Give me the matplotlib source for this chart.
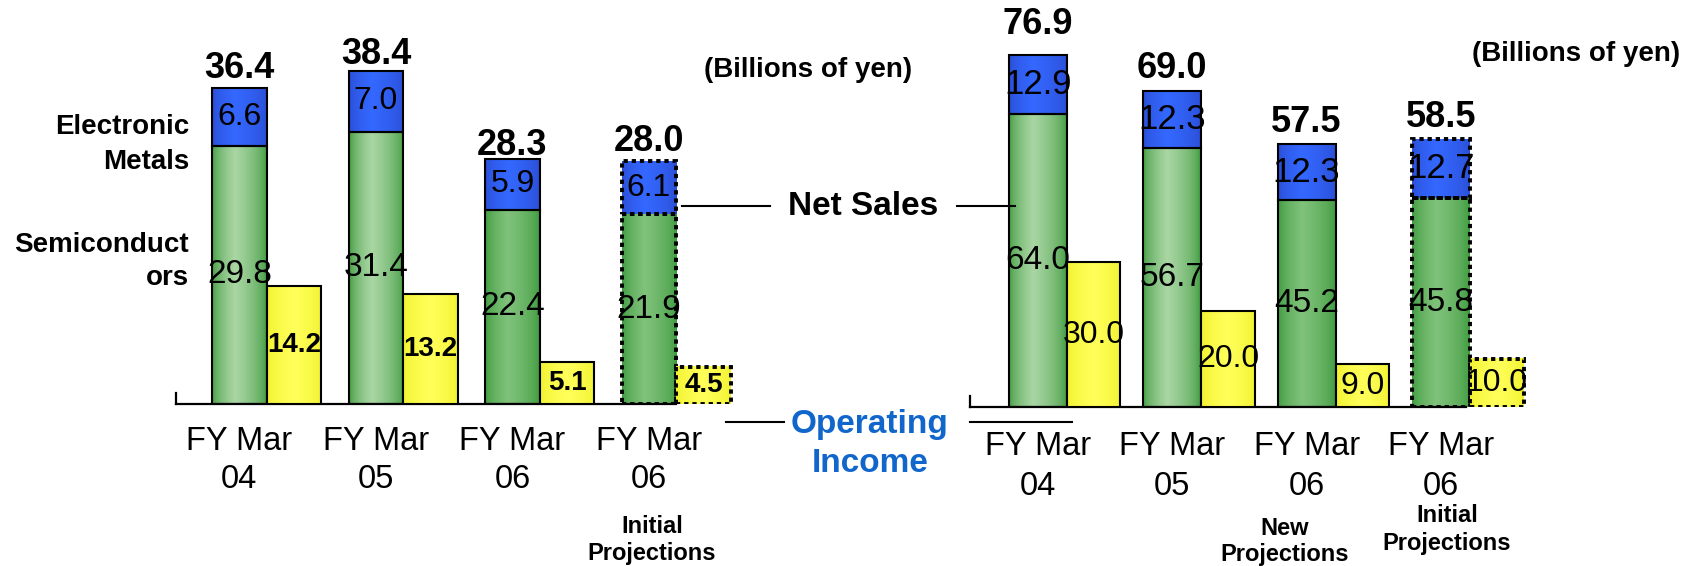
import numpy as np
import matplotlib
matplotlib.use("Agg")
import matplotlib.pyplot as plt
from matplotlib.lines import Line2D
from matplotlib.colors import to_rgb

plt.rcParams['font.family'] = ['Liberation Sans', 'DejaVu Sans']

# ---------------- data ----------------
categories = ["FY Mar\n04", "FY Mar\n05", "FY Mar\n06", "FY Mar\n06"]
projection = [False, False, False, True]
light_green = [True, True, False, False]

left_semis = [29.8, 31.4, 22.4, 21.9]
left_metals = [6.6, 7.0, 5.9, 6.1]
left_totals = [36.4, 38.4, 28.3, 28.0]
left_opinc = [14.2, 13.2, 5.1, 4.5]

right_semis = [64.0, 56.7, 45.2, 45.8]
right_metals = [12.9, 12.3, 12.3, 12.7]
right_totals = [76.9, 69.0, 57.5, 58.5]
right_opinc = [30.0, 20.0, 9.0, 10.0]

# ---------------- layout helpers ----------------
W, H = 1696, 566
fig = plt.figure(figsize=(W / 100, H / 100), dpi=100)


def fx(px):
    return px / W


def fy(py):
    return 1 - py / H


def add_axes_px(left, right, top, bottom):
    return fig.add_axes([left / W, 1 - bottom / H, (right - left) / W, (bottom - top) / H])


def gradient(ax, patch, c_edge, c_mid, peak=0.42, z=2):
    x0, y0 = patch.get_x(), patch.get_y()
    w, h = patch.get_width(), patch.get_height()
    t = np.linspace(0, 1, 120)
    f = np.where(t < peak, t / peak, (1 - t) / (1 - peak))
    f = np.clip(f, 0, 1) ** 0.55
    e = np.array(to_rgb(c_edge))
    m = np.array(to_rgb(c_mid))
    img = e[None, None, :] + (m - e)[None, None, :] * f[None, :, None]
    ax.imshow(img, extent=(x0, x0 + w, y0, y0 + h), aspect='auto',
              interpolation='bilinear', zorder=z, origin='lower')


BLUE = ('#2A4BD0', '#3468FF')
GREEN_L = ('#379637', '#AAD6A4')
GREEN_M = ('#379637', '#80C27B')
YELLOW = ('#F0F02A', '#FFFF5A')


def draw_panel(cfg, semis, metals, totals, opinc):
    left_px, right_px, base_px = cfg['left'], cfg['right'], cfg['base']
    x0_px, step = cfg['x0'], cfg['step']
    gw, yw = cfg['gw'], cfg['yw']
    ax = add_axes_px(left_px, right_px, 0, base_px)
    ax2 = ax.twinx()
    x = np.arange(len(categories))
    for i in range(len(categories)):
        dashed = projection[i]
        ls = (0, (1.1, 1.0)) if dashed else '-'
        lw = 2.8 if dashed else 1.5
        g = ax.bar(x[i] - gw, semis[i], width=gw, align='edge', facecolor='none',
                   edgecolor='black', lw=lw, ls=ls, zorder=3)[0]
        b = ax.bar(x[i] - gw, metals[i], bottom=semis[i], width=gw, align='edge',
                   facecolor='none', edgecolor='black', lw=lw, ls=ls, zorder=3)[0]
        y = ax2.bar(x[i], opinc[i], width=yw, align='edge', facecolor='none',
                    edgecolor='black', lw=lw, ls=ls, zorder=3)[0]
        for p in (g, b, y):
            p.set_capstyle('butt')
        gradient(ax, g, *(GREEN_L if light_green[i] else GREEN_M))
        gradient(ax, b, *BLUE)
        gradient(ax2, y, *YELLOW, peak=0.5)

        xc = x[i] - gw / 2
        # value labels
        ax2.text(xc, semis[i] / 2, f"{semis[i]:.1f}", transform=ax.transData,
                 ha='center', va='center', fontsize=cfg['fs_green'], zorder=6)
        ax2.text(xc, semis[i] + metals[i] / 2, f"{metals[i]:.1f}", transform=ax.transData,
                 ha='center', va='center', fontsize=cfg['fs_blue'], zorder=6)
        ax2.text(x[i] + yw / 2, opinc[i] / 2, f"{opinc[i]:.1f}",
                 ha='center', va='center', fontsize=cfg['fs_yellow'],
                 fontweight=cfg['fw_yellow'], zorder=6)
        ax2.annotate(f"{totals[i]:.1f}", xy=(xc, totals[i]), xycoords=ax.transData,
                     xytext=(0, cfg['top_gap'][i]), textcoords='offset pixels',
                     ha='center', va='baseline', fontsize=26, fontweight='bold',
                     annotation_clip=False)
        l1, l2 = categories[i].split('\n')
        for txt, off in ((l1, cfg['tick_off'][0]), (l2, cfg['tick_off'][1])):
            ax2.annotate(txt, xy=(xc, 0), xycoords=ax.get_xaxis_transform(),
                         xytext=(0, -off), textcoords='offset pixels',
                         ha='center', va='center', fontsize=23.5, annotation_clip=False)
        if i in cfg['sub']:
            dx, lines = cfg['sub'][i]
            for txt, off in lines:
                ax2.annotate(txt, xy=(xc, 0), xycoords=ax.get_xaxis_transform(),
                             xytext=(dx, -off), textcoords='offset pixels',
                             ha='center', va='center', fontsize=17, fontweight='bold',
                             annotation_clip=False)

    ax.set_xlim((left_px - x0_px) / step, (right_px - x0_px) / step)
    ax.set_ylim(0, base_px / cfg['s_scale'])
    ax2.set_ylim(0, base_px / cfg['o_scale'])
    for a in (ax, ax2):
        a.set_xticks([])
        a.set_yticks([])
        for s in a.spines.values():
            s.set_visible(False)
    ax.spines['bottom'].set_visible(True)
    ax.spines['left'].set_visible(True)
    ax.spines['bottom'].set_linewidth(1.6)
    ax.spines['left'].set_linewidth(1.6)
    ax.spines['bottom'].set_bounds((left_px - x0_px) / step, (cfg['axis_end'] - x0_px) / step)
    ax.spines['left'].set_bounds(0, 11 / cfg['s_scale'])
    ax.patch.set_visible(False)
    return ax, ax2


left_cfg = dict(left=175.7, right=760, base=404, x0=266.7, step=136.5, gw=0.40, yw=0.40,
                s_scale=8.67, o_scale=8.3, axis_end=676,
                fs_green=24, fs_blue=23, fs_yellow=20, fw_yellow='bold',
                top_gap=[10, 7, 4, 10], tick_off=(37.7, 76),
                sub={3: (3, [("Initial", 122.7), ("Projections", 149.3)])})
right_cfg = dict(left=970, right=1560, base=407.3, x0=1066.7, step=134.4, gw=0.43, yw=0.40,
                 s_scale=4.58, o_scale=4.83, axis_end=1466,
                 fs_green=24, fs_blue=25, fs_yellow=23, fw_yellow='normal',
                 top_gap=[21, 13, 12, 12], tick_off=(39.4, 79),
                 sub={2: (-21.5, [("New", 121), ("Projections", 147.7)]),
                      3: (6, [("Initial", 107.7), ("Projections", 136)])})

draw_panel(left_cfg, left_semis, left_metals, left_totals, left_opinc)
draw_panel(right_cfg, right_semis, right_metals, right_totals, right_opinc)

# ---------------- annotations ----------------
side = dict(ha='right', va='center', fontsize=20, fontweight='bold')
fig.text(fx(189), fy(126.7), "Electronic", **side)
fig.text(fx(189), fy(161.7), "Metals", **side)
fig.text(fx(189), fy(245), "Semiconduct", **side)
fig.text(fx(189), fy(278), "ors", **side)

fig.text(fx(808), fy(70), "(Billions of yen)", ha='center', va='center', fontsize=20, fontweight='bold')
fig.text(fx(1575.6), fy(54), "(Billions of yen)", ha='center', va='center', fontsize=20, fontweight='bold')

fig.text(fx(863), fy(206.7), "Net Sales", ha='center', va='center', fontsize=24, fontweight='bold')
fig.text(fx(870), fy(425), "Operating", ha='center', va='center', fontsize=24, fontweight='bold', color='#1166CC')
fig.text(fx(870), fy(463), "Income", ha='center', va='center', fontsize=24, fontweight='bold', color='#1166CC')

for (a, b, yy) in [(681.7, 770, 205.7), (957, 1015, 206), (725.7, 784, 421.7), (970, 1072, 421.7)]:
    fig.add_artist(Line2D([fx(a), fx(b)], [fy(yy), fy(yy)], transform=fig.transFigure,
                          color='black', lw=1.5))

fig.savefig("out.png", dpi=100)
